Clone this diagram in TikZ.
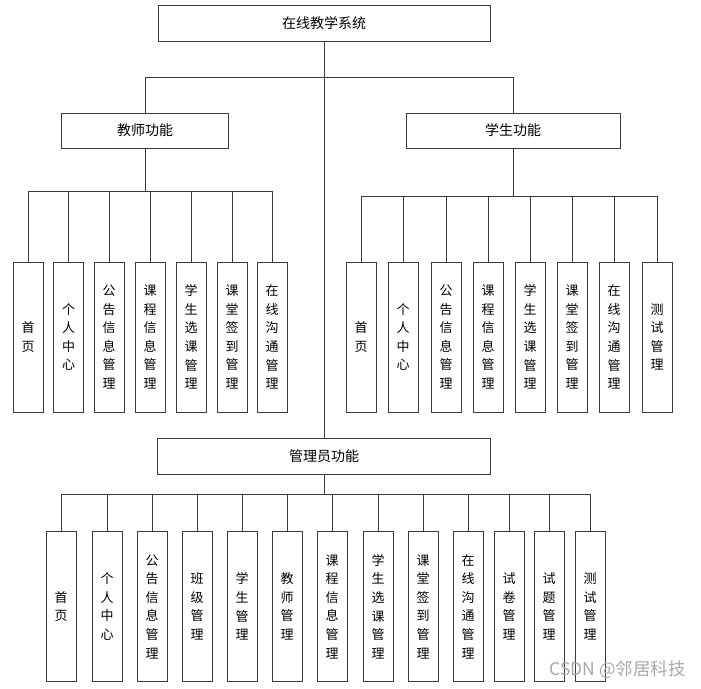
\documentclass[tikz,border=0pt]{standalone}
\usepackage{fontspec}
\newfontfamily\cjk{Noto Sans CJK SC}
\usetikzlibrary{positioning}
\definecolor{edge}{HTML}{3A3A3A}
\definecolor{mark}{HTML}{A8A8A8}
\tikzset{
  mainbox/.style={draw=edge,line width=0.9pt,fill=white,inner sep=0pt,
                  minimum height=36pt,font=\cjk\fontsize{14}{16}\selectfont},
  leaf/.style   ={draw=edge,line width=0.9pt,fill=white,inner sep=0pt,
                  minimum width=30pt,minimum height=150pt,align=center,
                  font=\cjk\fontsize{13}{18.6}\selectfont},
  link/.style   ={draw=edge,line width=0.8pt}
}
\begin{document}
\begin{tikzpicture}[x=1pt,y=-1pt]
  \useasboundingbox (0,0) rectangle (701,688);

  % top levels
  \node[mainbox,minimum width=332pt] (sys) at (324,23) {在线教学系统};
  \node[mainbox,minimum width=167pt,minimum height=35pt] (teacher) at (145,130.5) {教师功能};
  \node[mainbox,minimum width=214pt,minimum height=35pt] (student) at (513,130.5) {学生功能};
  \node[mainbox,minimum width=333pt] (admin) at (324,456) {管理员功能};

  \draw[link] (sys.south) -- (admin.north);
  \draw[link] (sys.south) -- ++(0,36) -| (teacher.north);
  \draw[link] (sys.south) -- ++(0,36) -| (student.north);

  % teacher leaves
  \foreach \x/\t [count=\i] in {28/{首\\页},68.5/{个\\人\\中\\心},109/{公\\告\\信\\息\\管\\理},
      150/{课\\程\\信\\息\\管\\理},191/{学\\生\\选\\课\\管\\理},232/{课\\堂\\签\\到\\管\\理},
      272/{在\\线\\沟\\通\\管\\理}}{
    \node[leaf] (t\i) at (\x,337) {\t};
    \draw[link] (teacher.south) -- ++(0,43) -| (t\i.north);
  }

  % student leaves
  \foreach \x/\t [count=\i] in {361/{首\\页},403/{个\\人\\中\\心},446/{公\\告\\信\\息\\管\\理},
      488/{课\\程\\信\\息\\管\\理},530/{学\\生\\选\\课\\管\\理},572/{课\\堂\\签\\到\\管\\理},
      614/{在\\线\\沟\\通\\管\\理},657/{测\\试\\管\\理}}{
    \node[leaf] (s\i) at (\x,337) {\t};
    \draw[link] (student.south) -- ++(0,48) -| (s\i.north);
  }

  % admin leaves
  \foreach \x/\t [count=\i] in {61/{首\\页},107/{个\\人\\中\\心},152/{公\\告\\信\\息\\管\\理},
      197/{班\\级\\管\\理},242/{学\\生\\管\\理},287/{教\\师\\管\\理},332/{课\\程\\信\\息\\管\\理},
      378/{学\\生\\选\\课\\管\\理},423/{课\\堂\\签\\到\\管\\理},468/{在\\线\\沟\\通\\管\\理},
      509/{试\\卷\\管\\理},549/{试\\题\\管\\理},590/{测\\试\\管\\理}}{
    \node[leaf] (a\i) at (\x,606.5) {\t};
    \draw[link] (admin.south) -- ++(0,20) -| (a\i.north);
  }

  \node[text=mark,font=\cjk\fontsize{17.5}{19}\selectfont,anchor=east,inner sep=0pt] (csdn) at (686,670) {CSDN @邻居科技};
\end{tikzpicture}
\end{document}
